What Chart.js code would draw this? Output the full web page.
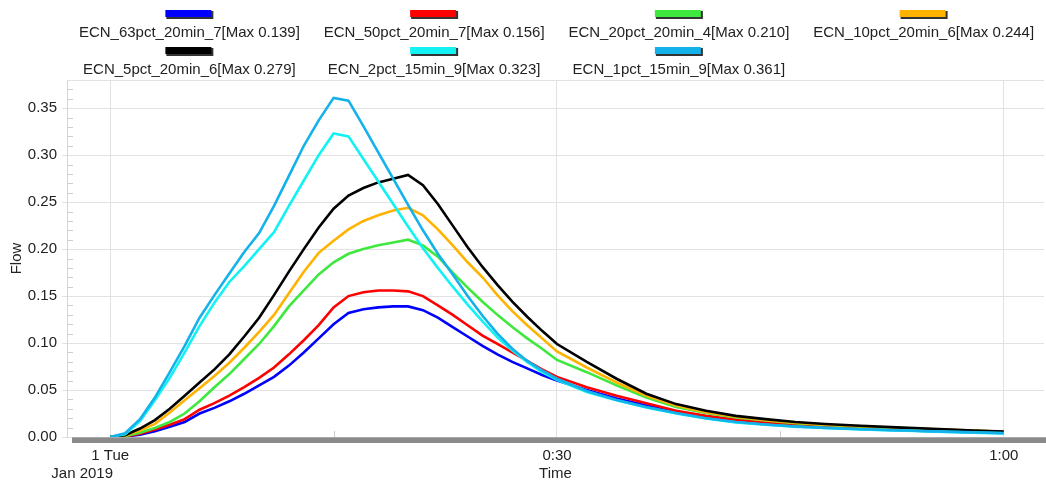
<!DOCTYPE html>
<html>
<head>
<meta charset="utf-8">
<script src="https://cdn.jsdelivr.net/npm/chart.js@4.4.1/dist/chart.umd.min.js"></script>
<style>
html,body{margin:0;padding:0;background:#fff;}
#wrap{width:1046px;height:486px;position:relative;}
</style>
</head>
<body>
<div id="wrap"><canvas id="c" width="1046" height="486"></canvas></div>
<script>
// ---- data ----
const minutes = [0,1,2,3,4,5,6,7,8,9,10,11,12,13,14,15,16,17,18,19,20,21,22,23,24,25,26,27,28,29,30,
  32,34,36,38,40,42,44,46,48,50,52,54,56,58,60];

const seriesLabels = [
  'ECN_63pct_20min_7[Max 0.139]',
  'ECN_50pct_20min_7[Max 0.156]',
  'ECN_20pct_20min_4[Max 0.210]',
  'ECN_10pct_20min_6[Max 0.244]',
  'ECN_5pct_20min_6[Max 0.279]',
  'ECN_2pct_15min_9[Max 0.323]',
  'ECN_1pct_15min_9[Max 0.361]'
];
const seriesColors = ['#0000ff','#ff0000','#3ee83e','#ffb300','#000000','#12f2f2','#14b2ea'];

const ecn63 = [0,0.0004,0.0025,0.006,0.011,0.016,0.025,0.031,0.038,0.046,0.055,0.064,0.076,0.090,0.105,0.120,0.132,0.136,0.138,0.139,0.139,0.135,0.127,0.117,0.107,0.097,0.088,0.080,0.073,0.066,0.060,
  0.050,0.041,0.0335,0.0265,0.0208,0.0166,0.0138,0.0117,0.0102,0.0089,0.0078,0.0068,0.0059,0.005,0.0042];
const ecn50 = [0,0.0005,0.0035,0.008,0.013,0.019,0.029,0.036,0.044,0.053,0.063,0.074,0.088,0.103,0.119,0.138,0.150,0.154,0.156,0.156,0.155,0.150,0.140,0.130,0.119,0.108,0.099,0.090,0.081,0.072,0.064,
  0.053,0.044,0.036,0.028,0.0225,0.0185,0.0155,0.013,0.0114,0.010,0.0089,0.0079,0.0069,0.0059,0.005];
const ecn20 = [0,0.001,0.0045,0.0095,0.016,0.025,0.038,0.053,0.067,0.083,0.099,0.118,0.139,0.156,0.173,0.186,0.195,0.200,0.204,0.207,0.210,0.204,0.192,0.175,0.159,0.144,0.130,0.117,0.105,0.094,0.082,
  0.069,0.055,0.042,0.032,0.0255,0.0208,0.0175,0.0148,0.0128,0.0113,0.010,0.0088,0.0077,0.0066,0.0055];
const ecn10 = [0,0.0015,0.007,0.014,0.026,0.039,0.052,0.065,0.079,0.095,0.112,0.130,0.153,0.176,0.196,0.209,0.221,0.230,0.236,0.241,0.244,0.236,0.221,0.204,0.186,0.170,0.151,0.134,0.119,0.105,0.091,
  0.074,0.058,0.044,0.0335,0.0265,0.0215,0.018,0.0152,0.0132,0.0117,0.0103,0.0091,0.0079,0.0068,0.0056];
const ecn5 = [0,0.002,0.009,0.018,0.030,0.044,0.058,0.072,0.088,0.107,0.127,0.151,0.176,0.200,0.223,0.243,0.257,0.265,0.271,0.275,0.279,0.268,0.248,0.225,0.202,0.181,0.162,0.144,0.128,0.113,0.099,
  0.080,0.062,0.046,0.035,0.028,0.0225,0.019,0.016,0.0138,0.0122,0.0108,0.0094,0.0081,0.0069,0.0057];
const ecn2 = [0,0.003,0.017,0.039,0.063,0.090,0.118,0.143,0.165,0.182,0.200,0.218,0.246,0.273,0.300,0.323,0.320,0.296,0.272,0.248,0.224,0.201,0.180,0.160,0.141,0.123,0.106,0.092,0.080,0.069,0.061,
  0.048,0.039,0.0315,0.025,0.0196,0.0156,0.013,0.011,0.0095,0.0083,0.0073,0.0064,0.0055,0.0047,0.0039];
const ecn1 = [0,0.004,0.019,0.042,0.069,0.097,0.127,0.151,0.174,0.197,0.217,0.246,0.278,0.310,0.337,0.361,0.358,0.331,0.303,0.275,0.247,0.220,0.195,0.173,0.150,0.129,0.110,0.094,0.081,0.071,0.062,
  0.049,0.0395,0.032,0.0255,0.020,0.016,0.0133,0.0112,0.0097,0.0085,0.0075,0.0066,0.0057,0.0049,0.0041];

const seriesValues = [ecn63, ecn50, ecn20, ecn10, ecn5, ecn2, ecn1];

const xTickValues = [0, 30, 60];
const xTickLabels = ['1 Tue', '0:30', '1:00'];
const xMinorTickValues = [15, 45];
const xSubLabel = 'Jan 2019';
const yTickValues = [0,0.05,0.10,0.15,0.20,0.25,0.30,0.35];
const yMinorStep = 0.01;

// ---- chart ----
const FONT = '"Liberation Sans", Arial, sans-serif';
const TXT = '#222222';
const GRID = '#e2e2e2';

const datasets = seriesValues.map((arr, i) => ({
  label: seriesLabels[i],
  data: minutes.map((m, j) => ({x: m, y: arr[j]})),
  borderColor: seriesColors[i],
  backgroundColor: seriesColors[i],
  borderWidth: 2.6,
  pointRadius: 0,
  tension: 0,
  fill: false,
  order: seriesValues.length - i
}));

const decoPlugin = {
  id: 'deco',
  beforeDatasetsDraw(chart) {
    const {ctx, chartArea: a, scales: {y}} = chart;
    ctx.save();
    ctx.strokeStyle = GRID; ctx.lineWidth = 1;
    ctx.beginPath(); ctx.moveTo(a.left, a.top + 0.5); ctx.lineTo(a.right, a.top + 0.5); ctx.stroke();
    ctx.strokeStyle = '#cfcfcf';
    for (let v = yMinorStep; v < y.max; v += yMinorStep) {
      const r = Math.round(v * 100);
      if (r % 5 === 0) continue;
      const py = Math.round(y.getPixelForValue(v)) + 0.5;
      ctx.beginPath(); ctx.moveTo(a.left, py); ctx.lineTo(a.left + 6, py); ctx.stroke();
    }
    ctx.restore();
  },
  afterDraw(chart) {
    const {ctx, chartArea: a, scales: {x}} = chart;
    ctx.save();
    ctx.strokeStyle = '#cccccc'; ctx.lineWidth = 1;
    xMinorTickValues.forEach(v => {
      const px = Math.round(x.getPixelForValue(v)) + 0.5;
      ctx.beginPath(); ctx.moveTo(px, a.bottom - 6); ctx.lineTo(px, a.bottom); ctx.stroke();
    });
    ctx.fillStyle = '#8a8a8a';
    ctx.fillRect(a.left + 5, a.bottom, chart.width - a.left - 5, 6);
    ctx.fillStyle = '#a8a8a8';
    ctx.fillRect(a.left + 5, a.bottom, chart.width - a.left - 5, 1);
    ctx.fillStyle = TXT;
    ctx.font = '15px ' + FONT;
    ctx.textAlign = 'center';
    ctx.textBaseline = 'middle';
    ctx.fillText(xSubLabel, x.getPixelForValue(xTickValues[0]) - 28, chart.height - 12);
    const colW = (chart.width - a.left) / 4;
    ctx.font = '15px ' + FONT;
    ctx.textBaseline = 'alphabetic';
    seriesLabels.forEach((lab, i) => {
      const row = i < 4 ? 0 : 1;
      const col = i < 4 ? i : i - 4;
      const cx = a.left + colW * (col + 0.5);
      const barTop = row === 0 ? 10 : 47;
      const base = row === 0 ? 37 : 74;
      ctx.fillStyle = '#333';
      ctx.fillRect(cx - 23, barTop + 1, 47, 8);
      ctx.fillStyle = seriesColors[i];
      ctx.fillRect(cx - 24, barTop, 46, 7);
      ctx.fillStyle = TXT;
      ctx.fillText(lab, cx, base);
    });
    ctx.restore();
  }
};

new Chart(document.getElementById('c'), {
  type: 'line',
  data: { datasets },
  options: {
    responsive: false,
    animation: false,
    devicePixelRatio: 1,
    layout: { padding: { top: 80, right: 2, left: 0, bottom: 0 } },
    plugins: { legend: { display: false }, tooltip: { enabled: false } },
    scales: {
      x: {
        type: 'linear',
        min: -2.9,
        max: 62.7,
        afterFit(s) { s.height = 49; },
        afterBuildTicks(s) { s.ticks = xTickValues.map(v => ({value: v})); },
        ticks: {
          autoSkip: false,
          maxRotation: 0,
          padding: 4,
          color: TXT,
          font: { family: FONT, size: 15 },
          callback: (v) => { const k = xTickValues.indexOf(v); return k >= 0 ? xTickLabels[k] : ''; }
        },
        grid: { color: GRID, lineWidth: 1, tickLength: 6, drawTicks: true },
        border: { display: false },
        title: { display: true, text: 'Time', color: TXT, font: { family: FONT, size: 15 }, padding: { top: 0, bottom: 3 } }
      },
      y: {
        type: 'linear',
        min: 0,
        max: 0.38,
        afterFit(s) { s.width = 67; },
        afterBuildTicks(s) { s.ticks = yTickValues.map(v => ({value: v})); },
        ticks: {
          padding: 5,
          color: TXT,
          font: { family: FONT, size: 15 },
          callback: (v) => Number(v).toFixed(2)
        },
        grid: { color: GRID, lineWidth: 1, tickLength: 5, drawTicks: true },
        border: { display: true, color: '#d4d4d4' },
        title: { display: true, text: 'Flow', color: TXT, font: { family: FONT, size: 15 }, padding: { top: 8, bottom: 0 } }
      }
    }
  },
  plugins: [decoPlugin]
});
</script>
</body>
</html>
